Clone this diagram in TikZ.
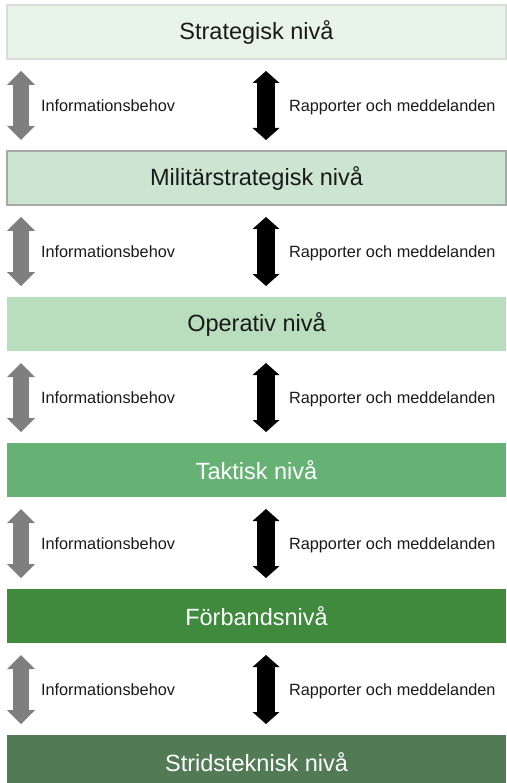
\documentclass[tikz,border=0pt]{standalone}
\usepackage{fontspec}
\setmainfont{Liberation Sans}
\usepackage{tikz}
\usetikzlibrary{arrows.meta,calc,positioning}
\definecolor{lvl_a}{HTML}{E8F4E9}
\definecolor{lvl_b}{HTML}{CCE5D0}
\definecolor{lvl_c}{HTML}{B8DEBD}
\definecolor{lvl_d}{HTML}{66B274}
\definecolor{lvl_e}{HTML}{3F8A3D}
\definecolor{lvl_f}{HTML}{527A55}
\definecolor{my_dark}{HTML}{1A1A1A}
\definecolor{my_gray}{HTML}{7F7F7F}
\tikzset{
  levelbox/.style = {minimum width=499pt, minimum height=54pt, inner sep=0pt, outer sep=0pt,
  text=my_dark, font=\fontsize{23.5}{28}\selectfont},
  lvl_light/.style = {levelbox},
  lvl_dark/.style = {levelbox, text=white},
  arrlabel/.style = {text=my_dark, font=\fontsize{16.3}{19}\selectfont, inner sep=0pt, outer sep=0pt,
  text height=12pt, text depth=0pt}
}

\begin{document}
\begin{tikzpicture}[x=1pt, y=1pt,
        infoarr/.style={draw=my_gray, line width=16pt,
            {Triangle[width=28pt,length=14pt,line width=0pt]}-{Triangle[width=28pt,length=14pt,line width=0pt]}},
        reparr/.style={draw=black, line width=18pt,
            {Triangle[width=27pt,length=12pt,line width=0pt]}-{Triangle[width=27pt,length=12pt,line width=0pt]}},
        infolabel/.style={arrlabel, right=20pt},
        replabel/.style={arrlabel, right=23pt}]
    \useasboundingbox (0,0) rectangle (506,-783);
    % the six levels
    \node [lvl_light, fill=lvl_a, draw=black!14, line width=1.5pt, anchor=north west] (strat) at (7,-5) {Strategisk nivå};
    \node [lvl_light, fill=lvl_b, draw=black!34, line width=1.5pt, below=92pt of strat] (milstrat) {Militärstrategisk nivå};
    \node [lvl_light, fill=lvl_c, below=92pt of milstrat] (oper) {Operativ nivå};
    \node [lvl_dark, fill=lvl_d, below=92pt of oper] (takt) {Taktisk nivå};
    \node [lvl_dark, fill=lvl_e, below=92pt of takt] (forb) {Förbandsnivå};
    \node [lvl_dark, fill=lvl_f, below=92pt of forb] (strid) {Stridsteknisk nivå};
    % arrows between the levels
    \foreach \a/\b in {strat/milstrat, milstrat/oper, oper/takt, takt/forb, forb/strid} {
        \draw [infoarr] ($(\a.south west)+(14,-12)$) -- node [infolabel] {Informationsbehov} ($(\b.north west)+(14,11)$);
        \draw [reparr] ($(\a.south west)+(259,-12)$) -- node [replabel] {Rapporter och meddelanden} ($(\b.north west)+(259,11)$);
    }
\end{tikzpicture}
\end{document}
